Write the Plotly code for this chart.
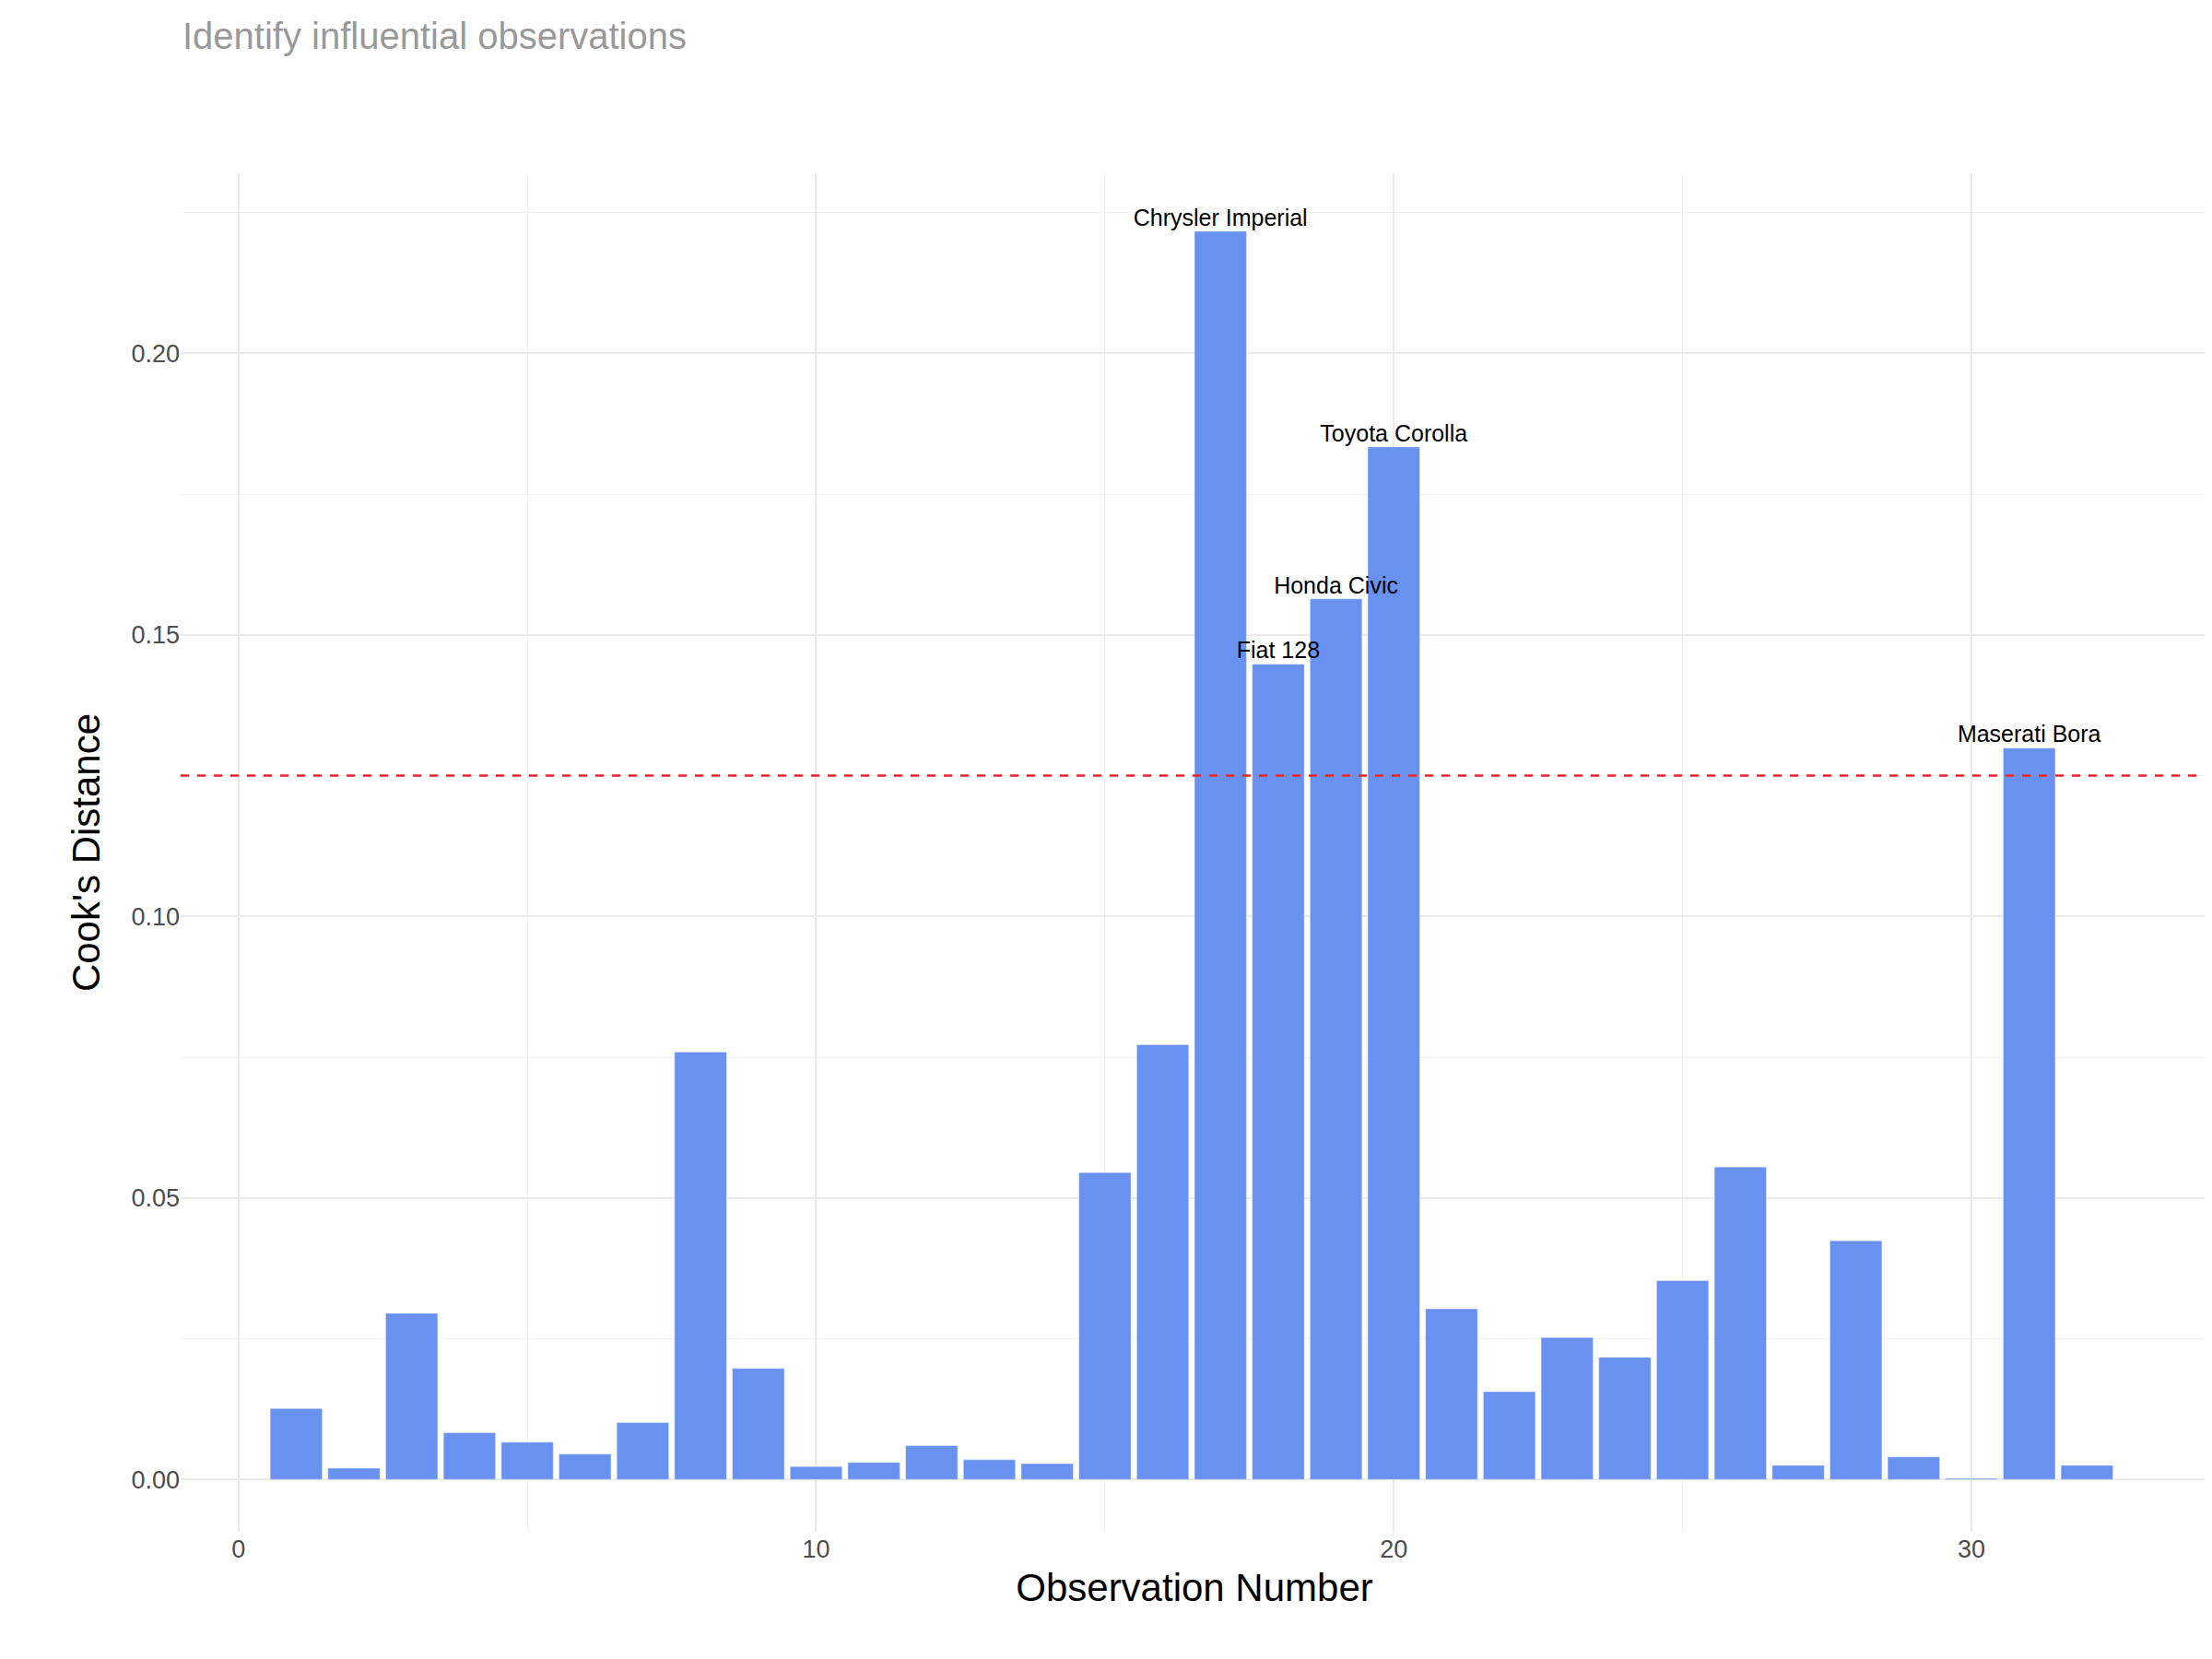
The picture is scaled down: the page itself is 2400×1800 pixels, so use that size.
import plotly.graph_objects as go

# Cook's distance per observation (mtcars regression)
obs = list(range(1, 33))
cooks_d = [0.0126, 0.0020, 0.0295, 0.0083, 0.0066, 0.0045, 0.0101, 0.0759,
           0.0197, 0.0023, 0.0030, 0.0060, 0.0035, 0.0028, 0.0545, 0.0772,
           0.2217, 0.1448, 0.1564, 0.1834, 0.0303, 0.0156, 0.0252, 0.0217,
           0.0353, 0.0555, 0.0025, 0.0424, 0.0040, 0.0002, 0.1299, 0.0025]
threshold = 4 / 32
label_obs = [17, 18, 19, 20, 31]
label_names = ["Chrysler Imperial", "Fiat 128", "Honda Civic", "Toyota Corolla", "Maserati Bora"]

fig = go.Figure()
fig.add_trace(go.Bar(x=obs, y=cooks_d, marker_color="#6891F0", width=0.9, showlegend=False))
fig.add_trace(go.Scatter(
    x=label_obs, y=[cooks_d[i - 1] for i in label_obs], mode="text",
    text=label_names, textposition="top center",
    textfont=dict(size=25, color="black", family="Liberation Sans"), showlegend=False))
fig.add_hline(y=threshold, line=dict(color="#E8262A", width=2.5, dash="dash"))

# title and subtitle
fig.add_annotation(text="<b>Cook's Distance</b>", xref="paper", yref="paper", x=0, y=1.155,
                   xanchor="left", yanchor="bottom", showarrow=False,
                   font=dict(size=46, color="black"))
fig.add_annotation(text="Identify influential observations", xref="paper", yref="paper",
                   x=0, y=1.085, xanchor="left", yanchor="bottom", showarrow=False,
                   font=dict(size=40, color="#999999"))

grid = "#EBEBEB"
fig.update_layout(
    width=2400, height=1800, plot_bgcolor="white", paper_bgcolor="white",
    margin=dict(l=188, r=12, t=180, b=146),
    font=dict(family="Liberation Sans", color="#4D4D4D", size=27),
    xaxis=dict(range=[-1, 34.1], tickvals=[0, 10, 20, 30], showgrid=True, gridcolor=grid,
               gridwidth=2, zeroline=False, ticks="",
               minor=dict(tickvals=[5, 15, 25], showgrid=True, gridcolor="#F3F3F3", gridwidth=1),
               title=dict(text="Observation Number", font=dict(size=42, color="black"), standoff=12)),
    yaxis=dict(range=[-0.0093, 0.232], tickvals=[0, 0.05, 0.10, 0.15, 0.20], tickformat=".2f",
               showgrid=True, gridcolor=grid, gridwidth=2, zeroline=False, ticks="",
               minor=dict(tickvals=[0.025, 0.075, 0.125, 0.175, 0.225], showgrid=True,
                          gridcolor="#F3F3F3", gridwidth=1),
               title=dict(text="Cook's Distance", font=dict(size=42, color="black"), standoff=20)),
)
fig.write_html("out.html")
